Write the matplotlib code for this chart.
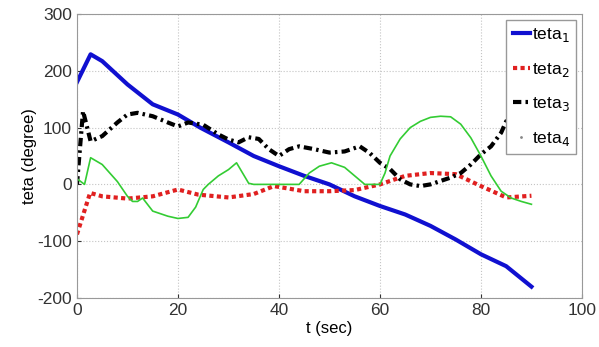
import numpy as np
import matplotlib.pyplot as plt
from matplotlib.lines import Line2D

plt.rcParams['font.family'] = ['Liberation Sans', 'DejaVu Sans']
plt.rcParams['axes.unicode_minus'] = False

# teta1 (blue)
t1 = [0, 2.7, 5, 10, 15, 20, 24.4, 30, 35, 40, 45, 50, 55, 60, 65, 70, 75, 80, 85, 90]
teta1 = [180, 229, 217, 176, 141, 123, 100, 74, 50, 32, 15, 0, -21, -38, -53, -73, -97, -123, -144, -180]

# teta2 (red)
t2 = [0, 2.6, 5, 10, 15, 20, 24, 30, 35, 39, 45, 50, 55, 60, 65, 70, 75, 80, 85, 90]
teta2 = [-88, -15, -21, -25, -21, -9, -18, -23, -17, -3, -12, -12, -10, 0, 15, 20, 18, -3, -23, -20]

# teta3 (black)
t3 = [0, 1.2, 2.7, 5, 8, 10, 12, 15, 18, 20, 22, 25, 28, 30, 32, 34, 36, 38, 40, 42, 44, 47,
      50, 53, 56, 58, 60, 62, 64, 66, 68, 70, 74, 76, 78, 80, 82, 84, 85, 90]
teta3 = [0, 129, 76, 85, 109, 123, 126, 120, 109, 102, 109, 105, 88, 79, 74, 83, 80, 62, 50, 62, 67, 62,
         56, 58, 67, 55, 38, 27, 9, 0, -3, 0, 12, 20, 35, 53, 67, 91, 111, 170]

# teta4 (green)
t4 = [0, 1.5, 2.7, 5, 8, 10, 11, 12, 13, 15, 18, 20, 22, 23.5, 25, 26, 28, 30, 31.6, 34, 35, 40, 44,
      46, 48, 50.4, 53, 55, 57, 60, 61, 62, 64, 66, 68, 70, 72, 74, 76, 78, 80, 82, 84, 86, 88, 90]
teta4 = [10, 0, 47, 35, 5, -21, -30, -30, -24, -47, -56, -60, -58, -40, -9, 0, 15, 26, 38, 2, 0, 0, 0,
         20, 32, 38, 30, 15, 0, 0, 20, 50, 80, 100, 111, 118, 120, 119, 106, 82, 50, 15, -12, -24, -30, -35]

fig = plt.figure(figsize=(5.99, 3.47), dpi=100)
ax = fig.add_axes([0.1285, 0.1412, 0.843, 0.8185])

ax.plot(t1, teta1, color='#1010d0', lw=3.0)
ax.plot(t2, teta2, color='#e02020', lw=3.0, ls=(0, (1, 0.8)))
ax.plot(t3, teta3, color='black', lw=3.0, ls=(0, (2, 1, 0.6, 1)))
ax.plot(t4, teta4, color='#33cc33', lw=1.2)

ax.set_xlim(0, 100)
ax.set_ylim(-200, 300)
ax.set_xticks([0, 20, 40, 60, 80, 100])
ax.set_yticks([-200, -100, 0, 100, 200, 300])
ax.tick_params(labelsize=12.5, length=3, direction='in', colors='#333333')
ax.grid(True, color='#c4c4c4', ls=':', lw=0.8)
for s in ax.spines.values():
    s.set_color('#999999')
ax.set_xlabel('t (sec)', fontsize=12, labelpad=2)
ax.set_ylabel('teta (degree)', fontsize=12, labelpad=0)

handles = [
    Line2D([], [], color='#1010d0', lw=3.0),
    Line2D([], [], color='#e02020', lw=3.0, ls=(0, (1, 0.8))),
    Line2D([], [], color='black', lw=3.0, ls=(0, (2, 1, 0.6, 1))),
    Line2D([], [], color='#888888', ls='none', marker='.', markersize=2),
]
labels = ['teta$_1$', 'teta$_2$', 'teta$_3$', 'teta$_4$']
leg = ax.legend(handles, labels, loc='upper right', bbox_to_anchor=(0.995, 0.99),
                fontsize=12.5, handlelength=1.0, handletextpad=0.1, labelspacing=0.95,
                borderpad=0.35, borderaxespad=0.2, fancybox=False, framealpha=1)
leg.get_frame().set_edgecolor('#999999')
leg.set_zorder(5)

fig.savefig('out.png', dpi=100)
